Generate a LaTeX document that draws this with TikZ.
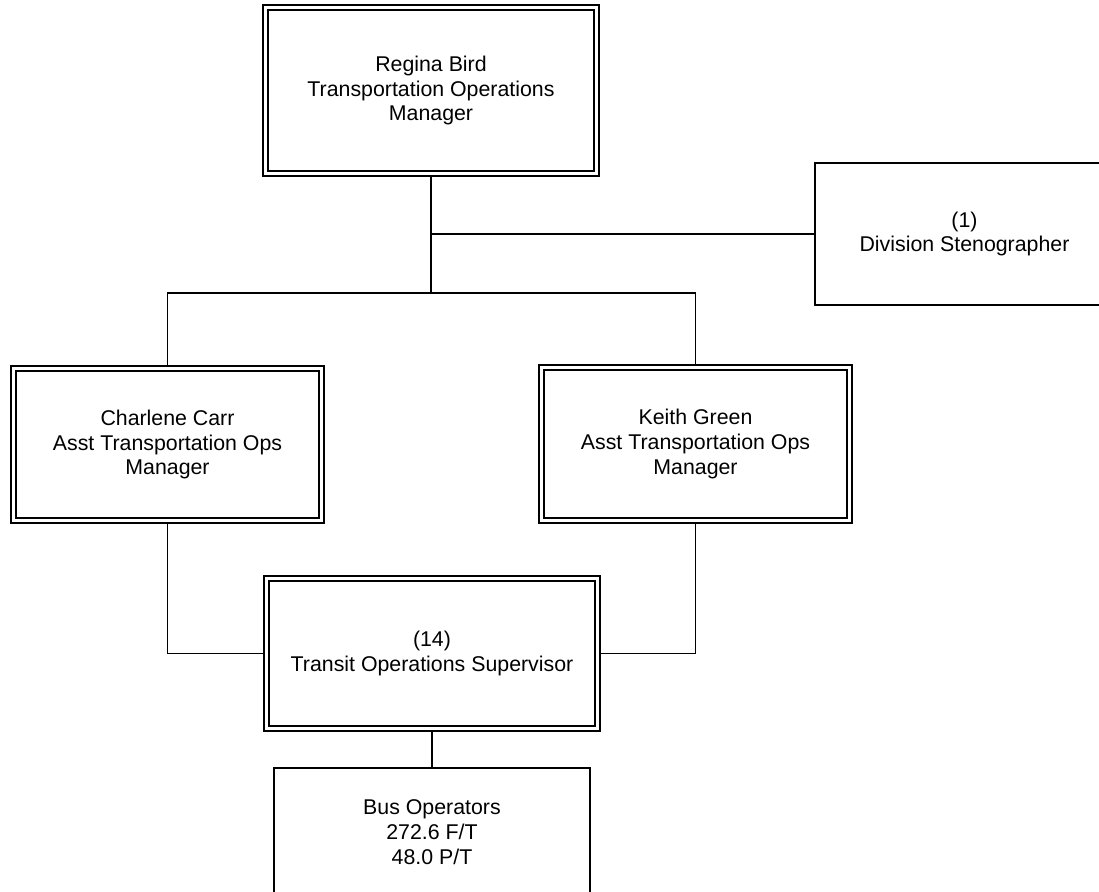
\documentclass[tikz,border=0pt]{standalone}
\usepackage{fontspec}
\setmainfont{Liberation Sans}
\begin{document}
\begin{tikzpicture}[x=0.75pt,y=-0.75pt,
  box/.style={draw, line width=1.35pt, rectangle, inner sep=0pt, outer sep=0.6pt, align=center,
    font=\fontsize{16}{18.6}\selectfont, fill=white},
  dbox/.style={box, double, double distance=2.6pt, outer sep=2.6pt},
  conn/.style={line width=1.35pt}]
\useasboundingbox (0,0) rectangle (1099,892);
\clip (0,0) rectangle (1099,892);
\node[dbox, minimum width=330.5*0.75pt, minimum height=165.5*0.75pt] (top) at (431,90.5)
  {Regina Bird\\Transportation Operations\\Manager};
\node[box, minimum width=299*0.75pt, minimum height=142*0.75pt] (steno) at (964.5,234)
  {(1)\\Division Stenographer};
\node[dbox, minimum width=307.5*0.75pt, minimum height=152.5*0.75pt] (left) at (167.5,444.5)
  {Charlene Carr\\Asst Transportation Ops\\Manager};
\node[dbox, minimum width=307.5*0.75pt, minimum height=152.5*0.75pt] (right) at (695.5,444)
  {Keith Green\\Asst Transportation Ops\\Manager};
\node[dbox, minimum width=331.5*0.75pt, minimum height=149.5*0.75pt] (mid) at (432,653.5)
  {(14)\\Transit Operations Supervisor};
\node[box, minimum width=316*0.75pt, minimum height=128*0.75pt] (bus) at (432,832)
  {Bus Operators\\272.6 F/T\\48.0 P/T};
\coordinate (hub) at (431,293);
\draw[conn] (top.south) -- (hub);
\draw[conn] (top.south |- steno.west) -- (steno.west);
\draw[conn] (left.north) -- (left.north |- hub) -- (right.north |- hub) -- (right.north);
\draw[conn] (left.south) |- (mid.west);
\draw[conn] (right.south) |- (mid.east);
\draw[conn] (mid.south) -- (bus.north);
\end{tikzpicture}
\end{document}
